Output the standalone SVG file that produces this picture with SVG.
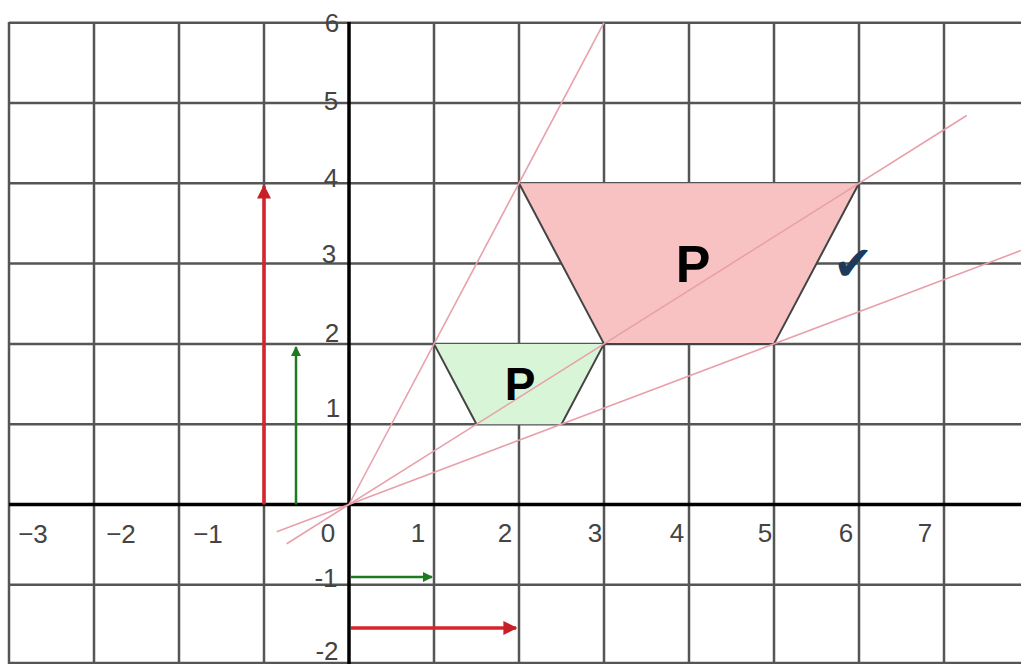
<svg xmlns="http://www.w3.org/2000/svg" width="1021" height="664" viewBox="0 0 1021 664">
<defs>
<style>
.grid{stroke:#555;stroke-width:2.5;fill:none}
.axis{stroke:#000;stroke-width:3.5;fill:none}
.lbl{font-family:"Liberation Sans",Arial,sans-serif;font-size:26px;fill:#444;text-anchor:middle}
.ray{stroke:#e8a0aa;stroke-width:1.6;fill:none}
.edge{stroke:#444;stroke-width:2;fill:none}
.pl{font-family:"Liberation Sans",Arial,sans-serif;font-weight:bold;fill:#000;text-anchor:middle}
</style>
<marker id="ahr" viewBox="0 0 10 10" refX="9" refY="5" markerWidth="4" markerHeight="4" orient="auto" markerUnits="strokeWidth"><path d="M0,0 L10,5 L0,10 z" fill="#c81e28"/></marker>
<marker id="ahg" viewBox="0 0 10 10" refX="9" refY="5" markerWidth="4" markerHeight="4" orient="auto" markerUnits="strokeWidth"><path d="M0,0 L10,5 L0,10 z" fill="#1e7a1e"/></marker>
</defs>
<rect width="1021" height="664" fill="#fff"/>
<g id="grid">
<path class="grid" d="M9,22 V664 M94,22 V664 M179,22 V664 M264,22 V664 M434,22 V664 M519,22 V664 M604,22 V664 M689,22 V664 M774,22 V664 M859,22 V664 M944,22 V664"/>
<path class="grid" d="M9,22.7 H1021 M9,103 H1021 M9,183.3 H1021 M9,263.6 H1021 M9,343.9 H1021 M9,424.2 H1021 M9,584.8 H1021 M9,663 H1021"/>
</g>
<g id="shape-small">
<polygon points="434,343.9 604,343.9 561.5,424.2 476.5,424.2" fill="#d8f5d8"/>
<path class="edge" d="M434,343.9 L476.5,424.2 M604,343.9 L561.5,424.2"/>
</g>
<g id="shape-large">
<polygon points="519,183.3 859,183.3 774,343.9 604,343.9" fill="#f8c2c2"/>
<path class="edge" d="M519,183.3 L604,343.9 M859,183.3 L774,343.9 M604,343.9 H774"/>
</g>
<g id="axes">
<path class="axis" d="M9,504.5 H1021 M349,22 V664"/>
</g>
<g id="connectors">
<path class="ray" d="M349,504.5 L604,22.7"/>
<path class="ray" d="M286.7,543.7 L966.7,115.5"/>
<path class="ray" d="M276.7,531.8 L1021,250.5"/>
<path d="M264,504.5 V186" stroke="#d8242c" stroke-width="3.5" marker-end="url(#ahr)"/>
<path d="M296,504.5 V347" stroke="#1e7a1e" stroke-width="2.5" marker-end="url(#ahg)"/>
<path d="M351,577 H432" stroke="#1e7a1e" stroke-width="2.5" marker-end="url(#ahg)"/>
<path d="M351,628 H516" stroke="#d8242c" stroke-width="3.5" marker-end="url(#ahr)"/>
</g>
<g id="labels">
<text class="lbl" x="33" y="543">−3</text>
<text class="lbl" x="121" y="543">−2</text>
<text class="lbl" x="208" y="543">−1</text>
<text class="lbl" x="328" y="542">0</text>
<text class="lbl" x="418" y="542">1</text>
<text class="lbl" x="505" y="542">2</text>
<text class="lbl" x="595" y="542">3</text>
<text class="lbl" x="677" y="542">4</text>
<text class="lbl" x="765" y="542">5</text>
<text class="lbl" x="846" y="542">6</text>
<text class="lbl" x="925" y="542">7</text>
<text class="lbl" x="332" y="32">6</text>
<text class="lbl" x="331" y="110">5</text>
<text class="lbl" x="331" y="187">4</text>
<text class="lbl" x="329" y="263">3</text>
<text class="lbl" x="332" y="342">2</text>
<text class="lbl" x="333" y="417">1</text>
<text class="lbl" x="326" y="587">-1</text>
<text class="lbl" x="327" y="660">-2</text>
</g>
<g id="texts">
<text class="pl" x="520" y="400" font-size="46">P</text>
<text class="pl" x="693" y="282" font-size="52">P</text>
<text x="853" y="280" font-family="DejaVu Sans,sans-serif" font-size="48" fill="#1b3a5c" text-anchor="middle">✔</text>
</g>
</svg>
